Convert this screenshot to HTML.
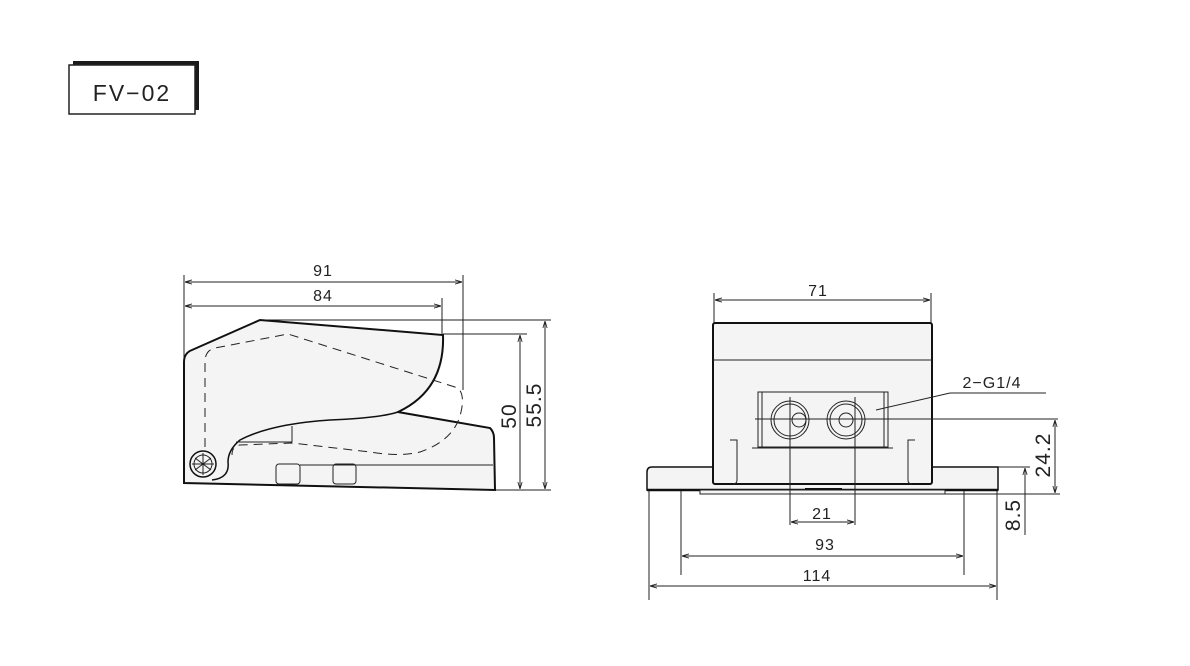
<!DOCTYPE html>
<html><head><meta charset="utf-8"><style>
html,body{margin:0;padding:0;background:#fff;}
svg{display:block;}
text{font-family:"Liberation Sans",sans-serif;fill:#222;}
</style></head><body>
<svg width="1190" height="666" viewBox="0 0 1190 666" xmlns="http://www.w3.org/2000/svg">
<defs>
<marker id="a" viewBox="0 0 10 10" refX="10" refY="5" markerWidth="7" markerHeight="7" orient="auto-start-reverse"><path d="M0,2 L10,5 L0,8" fill="none" stroke="#222" stroke-width="1.2"/></marker>
</defs>
<!-- title box -->
<rect x="73" y="61" width="126" height="49" fill="#1a1a1a"/>
<rect x="69" y="65" width="126" height="49" fill="#fff" stroke="#222" stroke-width="1.5"/>
<text x="132" y="101" font-size="23" text-anchor="middle" letter-spacing="2">FV−02</text>

<g stroke="#222" fill="none" stroke-width="1">
<line x1="184" y1="275" x2="184" y2="483"/>
<line x1="463" y1="275" x2="463" y2="390"/>
<line x1="442" y1="298" x2="442" y2="334"/>
<line x1="185" y1="282" x2="462" y2="282" marker-start="url(#a)" marker-end="url(#a)"/>
<line x1="185" y1="306" x2="441" y2="306" marker-start="url(#a)" marker-end="url(#a)"/>
<line x1="262" y1="320" x2="551" y2="320"/>
<line x1="443" y1="334" x2="527" y2="334"/>
<line x1="495" y1="490" x2="551" y2="490"/>
<line x1="520" y1="335" x2="520" y2="489" marker-start="url(#a)" marker-end="url(#a)"/>
<line x1="545" y1="321" x2="545" y2="489" marker-start="url(#a)" marker-end="url(#a)"/>
</g>
<text x="516" y="416" font-size="21" transform="rotate(-90 516 416)" text-anchor="middle" letter-spacing="1">50</text>
<text x="541" y="405" font-size="21" transform="rotate(-90 541 405)" text-anchor="middle" letter-spacing="1">55.5</text>
<text x="323" y="276" font-size="16" text-anchor="middle" letter-spacing="1">91</text>
<text x="323" y="301" font-size="16" text-anchor="middle" letter-spacing="1">84</text>

<path d="M184,483 L184,362 Q184,353 192,350 L260,320 L443,335 Q445,390 398,412 L490,428 Q494,432 494,438 L495,490 Z" fill="#f4f4f4" stroke="#111" stroke-width="2"/>
<path d="M398,412 Q380,418 330,420 Q270,424 240,440 Q228,450 228,462 Q230,478 212,480" fill="none" stroke="#111" stroke-width="1.5"/>
<line x1="236" y1="442" x2="292" y2="442" stroke="#222"/>
<line x1="292" y1="426" x2="292" y2="442" stroke="#222"/>
<path d="M205,462 L205,360 Q206,350 215,348 L288,334 L458,388 Q465,395 461,412 Q455,440 420,452 Q400,457 370,452 L292,443 L240,445 Q232,446 232,455" fill="none" stroke="#222" stroke-dasharray="9,6"/>
<circle cx="203" cy="464" r="13" fill="#f4f4f4" stroke="#111" stroke-width="1.5"/>
<circle cx="203" cy="464" r="9" fill="none" stroke="#222"/>
<path d="M195,458 L211,470 M211,458 L195,470 M203,453 L203,475 M192,464 L214,464" stroke="#222" stroke-width="1"/>
<path d="M300,465 L493,465" stroke="#222"/>
<rect x="276" y="464" width="24" height="20" rx="3" fill="none" stroke="#222"/>
<rect x="333" y="464" width="23" height="20" rx="3" fill="none" stroke="#222"/>

<g stroke="#222" fill="none" stroke-width="1">
<line x1="714" y1="293" x2="714" y2="325"/>
<line x1="931" y1="293" x2="931" y2="325"/>
<line x1="715" y1="300" x2="930" y2="300" marker-start="url(#a)" marker-end="url(#a)"/>
</g>
<text x="818" y="296" font-size="16" text-anchor="middle" letter-spacing="1">71</text>
<path d="M652,467 L998,467 Q998,467 998,470 L998,490 L647,490 L647,472 Q647,467 652,467 Z" fill="#f4f4f4" stroke="#111" stroke-width="1.5"/>
<line x1="647" y1="490" x2="998" y2="490" stroke="#111" stroke-width="2.5"/>
<rect x="700" y="490" width="245" height="4" fill="#f4f4f4" stroke="#222"/>
<line x1="805" y1="489" x2="842" y2="489" stroke="#111" stroke-width="2"/>
<rect x="713" y="323" width="219" height="161" rx="2" fill="#f4f4f4" stroke="#111" stroke-width="2"/>
<line x1="713" y1="360" x2="932" y2="360" stroke="#222"/>
<path d="M730,440 L737,440 L737,480 Q737,484 733,484 M915,440 L908,440 L908,480 Q908,484 912,484" fill="none" stroke="#222"/>
<line x1="752" y1="448" x2="893" y2="448" stroke="#222"/>
<rect x="758" y="392" width="130" height="55" fill="#f4f4f4" stroke="#222"/>
<line x1="762" y1="392" x2="762" y2="447" stroke="#222"/>
<line x1="884" y1="392" x2="884" y2="447" stroke="#222"/>
<circle cx="790" cy="420" r="19" fill="none" stroke="#222"/>
<circle cx="790" cy="420" r="16" fill="none" stroke="#222"/>
<circle cx="799" cy="420" r="7" fill="none" stroke="#222"/>
<circle cx="846" cy="420" r="19" fill="none" stroke="#222"/>
<circle cx="846" cy="420" r="16" fill="none" stroke="#222"/>
<circle cx="846" cy="420" r="7" fill="none" stroke="#222"/>
<g stroke="#222" fill="none" stroke-width="1">
<line x1="755" y1="419" x2="1058" y2="419"/>
<line x1="790" y1="397" x2="790" y2="525"/>
<line x1="855" y1="397" x2="855" y2="525"/>
<line x1="791" y1="522" x2="854" y2="522" marker-start="url(#a)" marker-end="url(#a)"/>
<line x1="876" y1="410" x2="950" y2="393"/>
<line x1="950" y1="393" x2="1046" y2="393"/>
<line x1="681" y1="491" x2="681" y2="575"/>
<line x1="964" y1="491" x2="964" y2="575"/>
<line x1="682" y1="556" x2="963" y2="556" marker-start="url(#a)" marker-end="url(#a)"/>
<line x1="649" y1="491" x2="649" y2="600"/>
<line x1="997" y1="491" x2="997" y2="600"/>
<line x1="650" y1="586" x2="996" y2="586" marker-start="url(#a)" marker-end="url(#a)"/>
<line x1="998" y1="467" x2="1030" y2="467"/>
<line x1="945" y1="494" x2="1060" y2="494"/>
<line x1="1055" y1="420" x2="1055" y2="493" marker-start="url(#a)" marker-end="url(#a)"/>
<line x1="1025" y1="468" x2="1025" y2="535" marker-start="url(#a)"/>
</g>
<text x="992" y="388" font-size="16" text-anchor="middle" letter-spacing="1">2−G1/4</text>
<text x="822" y="519" font-size="16" text-anchor="middle" letter-spacing="1">21</text>
<text x="825" y="550" font-size="16" text-anchor="middle" letter-spacing="1">93</text>
<text x="817" y="581" font-size="16" text-anchor="middle" letter-spacing="1">114</text>
<text x="1050" y="455" font-size="21" transform="rotate(-90 1050 455)" text-anchor="middle" letter-spacing="1">24.2</text>
<text x="1020" y="515" font-size="21" transform="rotate(-90 1020 515)" text-anchor="middle" letter-spacing="1">8.5</text>
</svg>
</body></html>
